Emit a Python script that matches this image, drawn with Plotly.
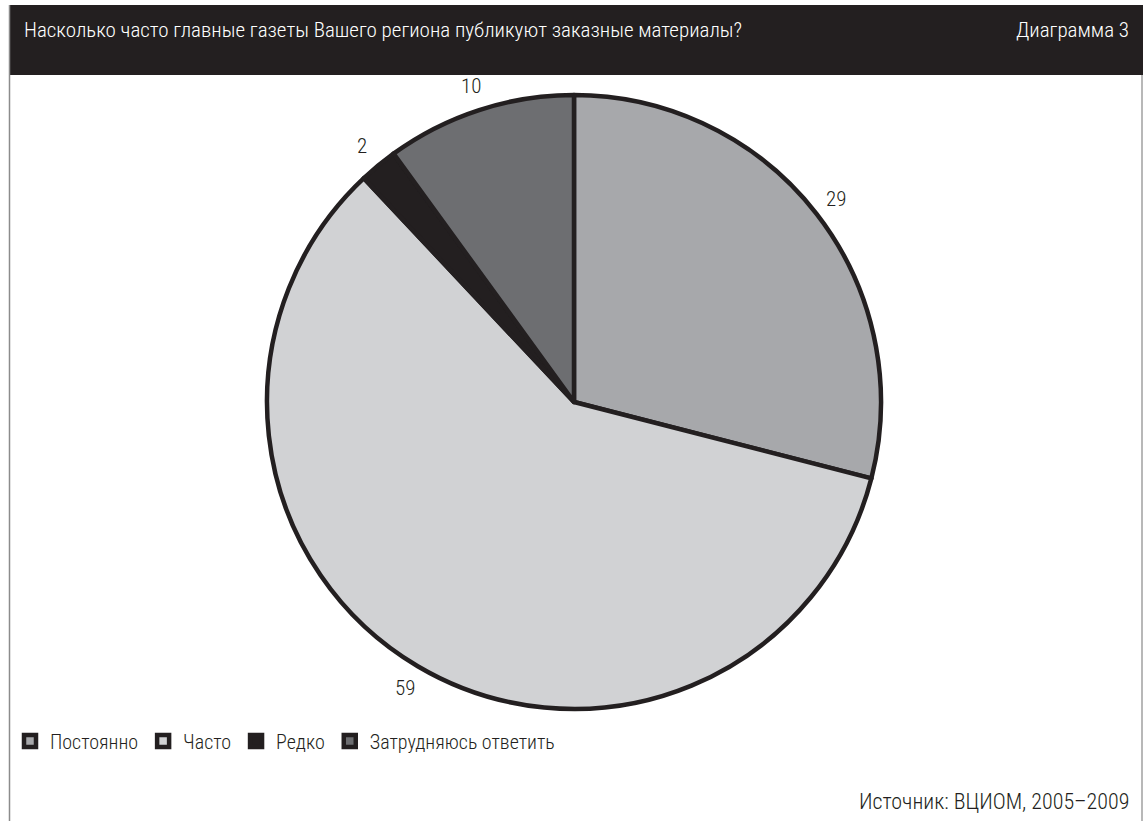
import numpy as np
import plotly.graph_objects as go

# Survey answers and shares, %
categories = ["Постоянно", "Часто", "Редко", "Затрудняюсь ответить"]
values = [29, 59, 2, 10]
colors = ["#a7a8ab", "#d1d2d4", "#231f20", "#6d6e71"]

title_text = "Насколько часто главные газеты Вашего региона публикуют заказные материалы?"
chart_no = "Диаграмма 3"
source_text = "Источник: ВЦИОМ, 2005–2009"

W, H = 1143, 821
FONT = "Roboto Condensed, Roboto, sans-serif"
WEIGHT = 300
INK = "#231f20"

# pie geometry in pixels
cx, cy, R = 574, 402, 307
label_r = 332

fig = go.Figure(
    go.Pie(
        labels=categories,
        values=values,
        sort=False,
        direction="clockwise",
        rotation=0,
        marker=dict(colors=colors, line=dict(color=INK, width=4.5)),
        textinfo="none",
        hoverinfo="label+value",
        domain=dict(x=[(cx - R) / W, (cx + R) / W], y=[1 - (cy + R) / H, 1 - (cy - R) / H]),
    )
)

# value labels outside each slice, at the slice's middle angle
vals = np.array(values, dtype=float)
mid = (np.cumsum(vals) - vals / 2) / vals.sum() * 2 * np.pi
annotations = []
for v, a in zip(values, mid):
    px = cx + label_r * np.sin(a)
    py = cy - label_r * np.cos(a)
    annotations.append(dict(
        x=px / W, y=1 - py / H, xref="paper", yref="paper",
        text=str(v), showarrow=False, xanchor="center", yanchor="middle",
        font=dict(family=FONT, size=21, color=INK, weight=WEIGHT),
    ))

annotations += [
    dict(x=22 / W, y=1 - 30 / H, xref="paper", yref="paper", text=title_text,
         showarrow=False, xanchor="left", yanchor="middle",
         font=dict(family=FONT, size=21, color="white", weight=WEIGHT)),
    dict(x=1131 / W, y=1 - 30 / H, xref="paper", yref="paper", text=chart_no,
         showarrow=False, xanchor="right", yanchor="middle",
         font=dict(family=FONT, size=21, color="white", weight=WEIGHT)),
    dict(x=1131 / W, y=1 - 801 / H, xref="paper", yref="paper", text=source_text,
         showarrow=False, xanchor="right", yanchor="middle",
         font=dict(family=FONT, size=22, color=INK, weight=WEIGHT)),
]

shapes = [
    # header band
    dict(type="rect", xref="paper", yref="paper", x0=9 / W, x1=1, y0=1 - 75 / H, y1=1 - 5 / H,
         fillcolor=INK, line=dict(width=0), layer="below"),
    # frame side lines
    dict(type="line", xref="paper", yref="paper", x0=9.5 / W, x1=9.5 / W, y0=0, y1=1 - 5 / H,
         line=dict(color="#8c8c8c", width=1.5)),
    dict(type="line", xref="paper", yref="paper", x0=1142 / W, x1=1142 / W, y0=0, y1=1 - 75 / H,
         line=dict(color="#a0a0a0", width=1.5)),
]

fig.update_layout(
    width=W, height=H,
    margin=dict(l=0, r=0, t=0, b=0),
    paper_bgcolor="white",
    plot_bgcolor="white",
    showlegend=True,
    legend=dict(
        orientation="h", x=10 / W, y=1 - 741 / H, xanchor="left", yanchor="middle",
        font=dict(family=FONT, size=20, color=INK, weight=WEIGHT),
        itemwidth=30, tracegroupgap=0, bgcolor="rgba(0,0,0,0)",
    ),
    annotations=annotations,
    shapes=shapes,
)

fig.write_html("out.html")
